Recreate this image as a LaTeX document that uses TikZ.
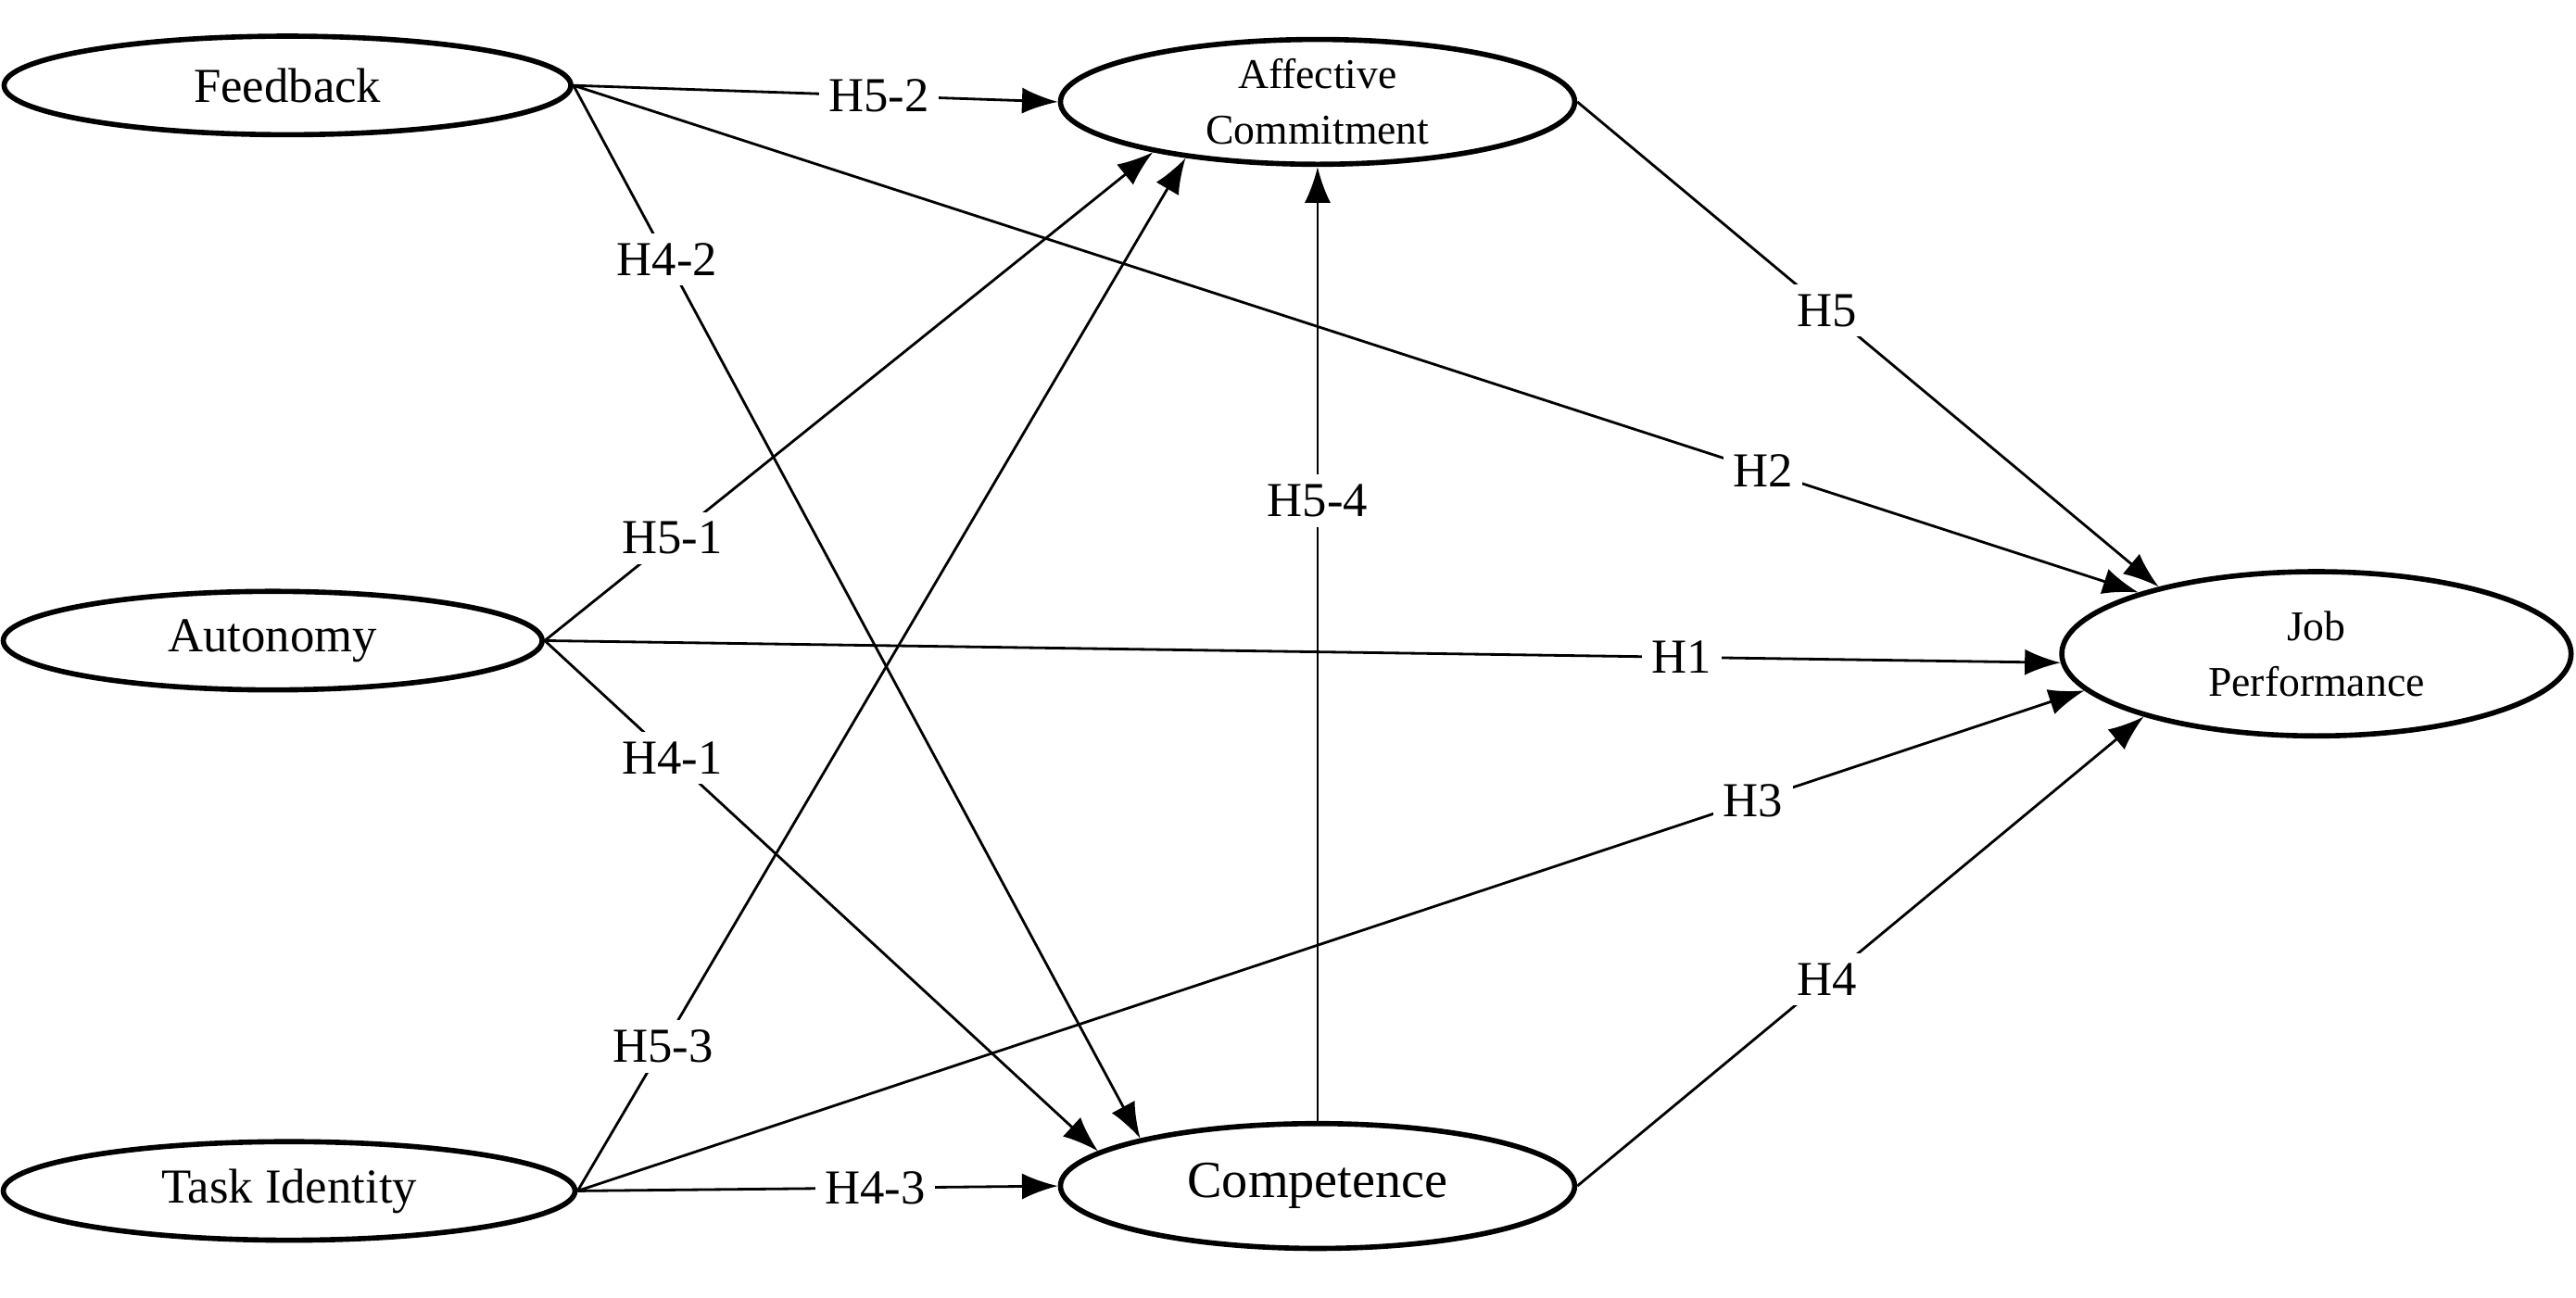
\documentclass[tikz,border=0pt]{standalone}
\usepackage{fontspec}
\setmainfont{Liberation Serif}
\usetikzlibrary{shapes.geometric,arrows.meta}
\begin{document}
\begin{tikzpicture}[x=0.01773cm,y=-0.01773cm,
  ell/.style={ellipse,draw,line width=1.6pt,inner sep=0pt,font=\fontsize{15}{17}\selectfont,align=center},
  arr/.style={-{Latex[length=11pt,width=8pt]},line width=0.8pt},
  lab/.style={fill=white,inner sep=3pt,font=\fontsize{15}{17}\selectfont}]
\useasboundingbox (0,0) rectangle (1568,790);
\node[ell,minimum width=345\pgflinewidth*0+345*0.01773cm,minimum height=60*0.01773cm] (fb) at (175,52) {Feedback};
\node[ell,minimum width=328*0.01773cm,minimum height=60*0.01773cm] (au) at (166,390) {Autonomy};
\node[ell,minimum width=348*0.01773cm,minimum height=60*0.01773cm] (ti) at (176,725) {Task Identity};
\node[ell,minimum width=313*0.01773cm,minimum height=76*0.01773cm,font=\fontsize{13}{17}\selectfont] (ac) at (802,62) {Affective\\Commitment};
\node[ell,minimum width=313*0.01773cm,minimum height=76*0.01773cm,font=\fontsize{16}{18}\selectfont] (co) at (802,722) {Competence};
\node[ell,minimum width=310*0.01773cm,minimum height=100*0.01773cm,font=\fontsize{13}{17}\selectfont] (jp) at (1410,398) {Job\\Performance};
\draw[arr] (fb.east) -- node[lab,pos=0.63]{H5-2} (ac.west);
\draw[arr] (fb.east) -- node[lab,pos=0.165]{H4-2} (co.165);
\draw[arr] (fb.east) -- node[lab,pos=0.76]{H2} (jp.161);
\draw[arr] (au.east) -- node[lab,pos=0.21]{H5-1} (ac.197);
\draw[arr] (au.east) -- node[lab,pos=0.75]{H1} (jp.182);
\draw[arr] (au.east) -- node[lab,pos=0.23]{H4-1} (co.171);
\draw[arr] (ti.east) -- node[lab,pos=0.14]{H5-3} (ac.203);
\draw[arr] (ti.east) -- node[lab,pos=0.78]{H3} (jp.189);
\draw[arr] (ti.east) -- node[lab,pos=0.62]{H4-3} (co.west);
\draw[arr] (co.north) -- node[lab,pos=0.65]{H5-4} (ac.south);
\draw[arr] (ac.east) -- node[lab,pos=0.43]{H5} (jp.157);
\draw[arr] (co.east) -- node[lab,pos=0.44]{H4} (jp.200);
\end{tikzpicture}
\end{document}
